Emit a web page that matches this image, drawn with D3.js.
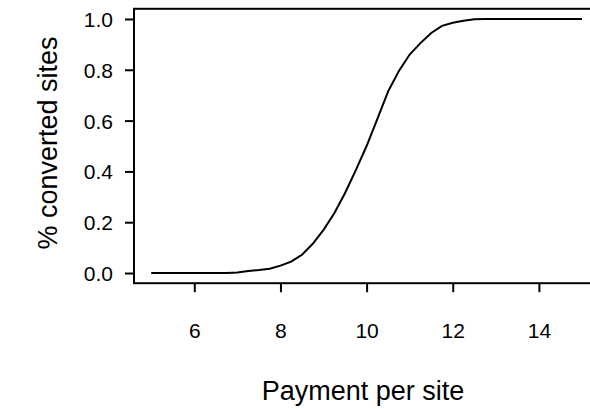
<!DOCTYPE html>
<html><head><meta charset="utf-8">
<script src="https://cdn.jsdelivr.net/npm/d3@7"></script>
<style>body{margin:0;background:#fff}svg{display:block}text{font-family:"Liberation Sans",Arial,sans-serif;fill:#000}</style>
</head><body><svg id="c" width="590" height="409"></svg>
<script>
const payment = [5,5.25,5.5,5.75,6,6.25,6.5,6.75,7,7.25,7.5,7.75,8,8.25,8.5,8.75,9,9.25,9.5,9.75,10,10.25,10.5,10.75,11,11.25,11.5,11.75,12,12.25,12.5,12.75,13,13.25,13.5,13.75,14,14.25,14.5,14.75,15];
const converted = [0,0,0,0,0,0,0,0,0.002,0.008,0.012,0.017,0.029,0.045,0.072,0.115,0.17,0.235,0.315,0.405,0.50,0.607,0.715,0.795,0.86,0.905,0.945,0.973,0.985,0.993,0.999,1,1,1,1,1,1,1,1,1,1];
const xTicks = [6,8,10,12,14];
const yTicks = [0,0.2,0.4,0.6,0.8,1.0];
const xLabel = "Payment per site", yLabel = "% converted sites";

const svg = d3.select("#c");
const x = d3.scaleLinear().domain([4.6,15.4]).range([134,599.2]);
const y = d3.scaleLinear().domain([-0.04,1.04]).range([283.2,8.8]);

svg.append("rect").attr("x",134).attr("y",8.8).attr("width",599.2-134).attr("height",283.2-8.8)
  .attr("fill","none").attr("stroke","#000").attr("stroke-width",2);

const gx = svg.append("g").attr("transform","translate(0,283.2)")
  .call(d3.axisBottom(x).tickValues(xTicks).tickSize(9).tickPadding(31).tickFormat(d3.format("d")));
const gy = svg.append("g").attr("transform","translate(134,0)")
  .call(d3.axisLeft(y).tickValues(yTicks).tickSize(9).tickPadding(12).tickFormat(d3.format(".1f")));
[gx,gy].forEach(g=>{
  g.attr("font-size",null).attr("font-family",null);
  g.select(".domain").remove();
  g.selectAll(".tick line").attr("stroke","#000").attr("stroke-width",2);
  g.selectAll(".tick text").style("font-size","21px").style("font-family","Liberation Sans, Arial, sans-serif");
});
gy.selectAll(".tick text").attr("dy","0.36em");

const line = d3.line().x((d,i)=>x(payment[i])).y(d=>y(d));
svg.append("path").datum(converted).attr("d",line).attr("fill","none").attr("stroke","#000").attr("stroke-width",2);

svg.append("text").attr("x",363).attr("y",400).attr("text-anchor","middle").style("font-size","27px").text(xLabel);
svg.append("text").attr("transform","translate(57,143) rotate(-90)").attr("text-anchor","middle").style("font-size","27px").text(yLabel);
</script></body></html>
